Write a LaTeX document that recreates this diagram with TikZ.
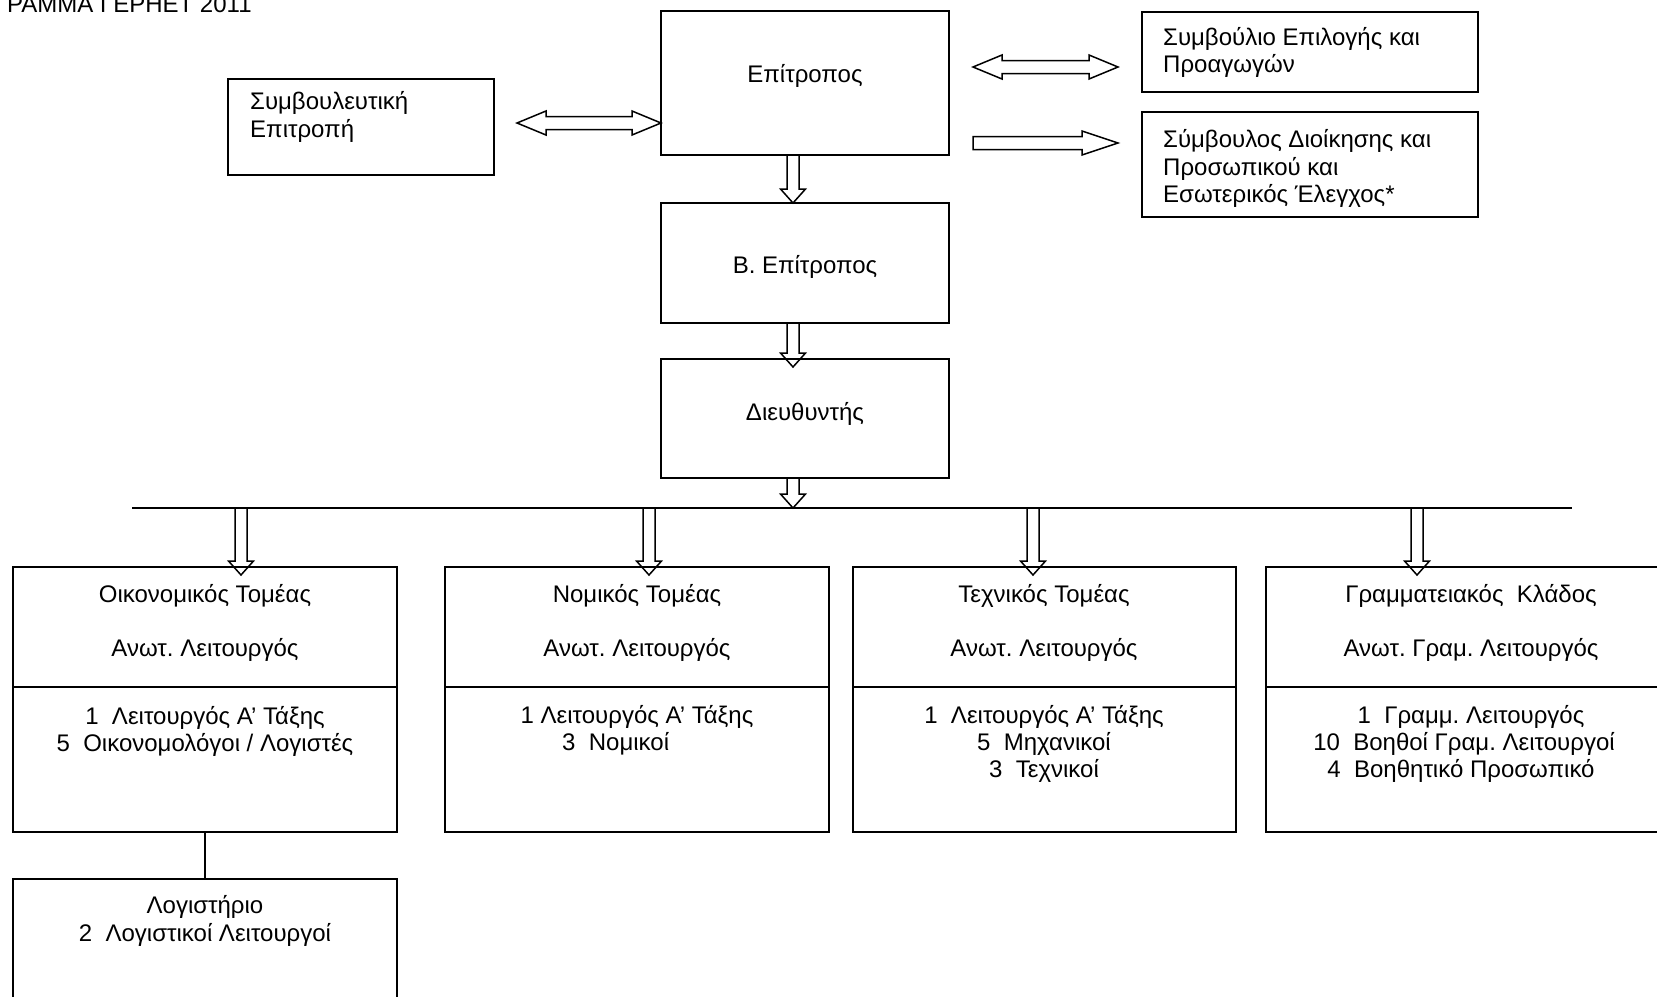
\documentclass[tikz,border=0pt]{standalone}
\usepackage{fontspec}
\setmainfont{Liberation Sans}
\usetikzlibrary{calc}
\frenchspacing
\newcommand\fs{\fontsize{24}{27}\selectfont}
\tikzset{
  box/.style={draw, line width=1.9pt, inner sep=0pt, outer sep=0pt, anchor=north west},
  lbl/.style={inner sep=0pt, anchor=base, font=\fs},
  lbll/.style={inner sep=0pt, anchor=base west, font=\fs},
  barrow/.style={draw, line width=1.5pt, line join=miter},
  busline/.style={draw, line width=1.9pt},
}
\newcommand\dnarr[2]{\draw[barrow] let \p1=(#1), \p2=(#2) in
  (\x2-6pt,\y1) -- (\x2-6pt,\y2+14pt) -- (\x2-12.5pt,\y2+14pt) -- (\x2,\y2) --
  (\x2+12.5pt,\y2+14pt) -- (\x2+6pt,\y2+14pt) -- (\x2+6pt,\y1) -- cycle;}
\newcommand\dblarr[2]{\draw[barrow] let \p1=(#1), \p2=(#2) in
  (\x1,\y1) -- (\x1+29pt,\y1+12pt) -- (\x1+29pt,\y1+6.5pt) -- (\x2-29pt,\y1+6.5pt) --
  (\x2-29pt,\y1+12pt) -- (\x2,\y1) -- (\x2-29pt,\y1-12pt) -- (\x2-29pt,\y1-6.5pt) --
  (\x1+29pt,\y1-6.5pt) -- (\x1+29pt,\y1-12pt) -- cycle;}
\newcommand\rtarr[2]{\draw[barrow] let \p1=(#1), \p2=(#2) in
  (\x1,\y1+6.5pt) -- (\x2-36pt,\y1+6.5pt) -- (\x2-36pt,\y1+12pt) -- (\x2,\y1) --
  (\x2-36pt,\y1-12pt) -- (\x2-36pt,\y1-6.5pt) -- (\x1,\y1-6.5pt) -- cycle;}
\begin{document}
\begin{tikzpicture}[x=1pt,y=-1pt]
\useasboundingbox (0,0) rectangle (1657,996);

% title (cut at the top)
\node[lbll] (title) at (7,12.7) {ΡΑΜΜΑ ΓΕΡΗΕΤ 2011};

% top column
\node[box, minimum width=288, minimum height=144] (epit) at (661,11) {};
\node[lbl] (epitT) at (805,82) {Επίτροπος};
\node[box, minimum width=288, minimum height=120] (bepit) at (661,203) {};
\node[lbl] (bepitT) at (805,273) {Β. Επίτροπος};
\node[box, minimum width=288, minimum height=119] (dieu) at (661,359) {};
\node[lbl] (dieuT) at (805,420) {Διευθυντής};

% left box
\node[box, minimum width=266, minimum height=96] (symb) at (228,79) {};
\node[lbll] (symbT1) at (250,109) {Συμβουλευτική};
\node[lbll] (symbT2) at (250,137) {Επιτροπή};

% right boxes
\node[box, minimum width=336, minimum height=80] (sel) at (1142,12) {};
\node[lbll] (selT1) at (1163,45) {Συμβούλιο Επιλογής και};
\node[lbll] (selT2) at (1163,72) {Προαγωγών};
\node[box, minimum width=336, minimum height=105] (adm) at (1142,112) {};
\node[lbll] (admT1) at (1163,147) {Σύμβουλος Διοίκησης και};
\node[lbll] (admT2) at (1163,175) {Προσωπικού και};
\node[lbll] (admT3) at (1163,202) {Εσωτερικός Έλεγχος*};

% horizontal arrows
\coordinate (la) at (517,123);
\coordinate (lb) at (661,123);
\dblarr{la}{lb}
\coordinate (ra1) at (973,67);
\coordinate (rb1) at (1118,67);
\dblarr{ra1}{rb1}
\coordinate (ra2) at (973,143);
\coordinate (rb2) at (1118,143);
\rtarr{ra2}{rb2}

% vertical arrows
\coordinate (v1) at (793,155);
\coordinate (v1t) at (793,203);
\dnarr{v1}{v1t}
\coordinate (v2) at (793,323);
\coordinate (v2t) at (793,367);
\dnarr{v2}{v2t}
\coordinate (v3) at (793,478);
\coordinate (v3t) at (793,508);
\dnarr{v3}{v3t}

% bus line
\coordinate (busL) at (132,508);
\coordinate (busR) at (1572,508);
\draw[busline] (busL) -- (busR);

% bottom boxes
\node[box, minimum width=384, minimum height=120] (b1t) at (13,567) {};
\node[box, minimum width=384, minimum height=145] (b1b) at (13,687) {};
\node[box, minimum width=384, minimum height=120] (b2t) at (445,567) {};
\node[box, minimum width=384, minimum height=145] (b2b) at (445,687) {};
\node[box, minimum width=383, minimum height=120] (b3t) at (853,567) {};
\node[box, minimum width=383, minimum height=145] (b3b) at (853,687) {};
\node[box, minimum width=410, minimum height=120] (b4t) at (1266,567) {};
\node[box, minimum width=410, minimum height=145] (b4b) at (1266,687) {};

\coordinate (ds1) at (241,508); \coordinate (dt1) at (241,575);
\coordinate (ds2) at (649,508); \coordinate (dt2) at (649,575);
\coordinate (ds3) at (1033,508); \coordinate (dt3) at (1033,575);
\coordinate (ds4) at (1417,508); \coordinate (dt4) at (1417,575);
\dnarr{ds1}{dt1}
\dnarr{ds2}{dt2}
\dnarr{ds3}{dt3}
\dnarr{ds4}{dt4}

% box 1
\node[lbl] (b1a) at (205,602) {Οικονομικός Τομέας};
\node[lbl] (b1c) at (205,656) {Ανωτ. Λειτουργός};
\node[lbl] (b1d) at (205,724) {1~~Λειτουργός Α’ Τάξης};
\node[lbl] (b1e) at (205,751) {5~~Οικονομολόγοι / Λογιστές};
% box 2
\node[lbl] (b2a) at (637,602) {Νομικός Τομέας};
\node[lbl] (b2c) at (637,656) {Ανωτ. Λειτουργός};
\node[lbl] (b2d) at (637,723) {1 Λειτουργός Α’ Τάξης};
\node[lbll] (b2e) at (562,750) {3~~Νομικοί};
% box 3
\node[lbl] (b3a) at (1044,602) {Τεχνικός Τομέας};
\node[lbl] (b3c) at (1044,656) {Ανωτ. Λειτουργός};
\node[lbl] (b3d) at (1044,723) {1~~Λειτουργός Α’ Τάξης};
\node[lbl] (b3e) at (1044,750) {5~~Μηχανικοί};
\node[lbl] (b3f) at (1044,777) {3~~Τεχνικοί};
% box 4
\node[lbl] (b4a) at (1471,602) {Γραμματειακός~~Κλάδος};
\node[lbl] (b4c) at (1471,656) {Ανωτ. Γραμ. Λειτουργός};
\node[lbl] (b4d) at (1471,723) {1~~Γραμμ. Λειτουργός};
\node[lbl] (b4e) at (1464,750) {10~~Βοηθοί Γραμ. Λειτουργοί};
\node[lbl] (b4f) at (1461,777) {4~~Βοηθητικό Προσωπικό};

% accounting
\node[box, minimum width=384, minimum height=140] (log) at (13,879) {};
\draw[line width=1.9pt] (b1b.south) -- (log.north);
\node[lbl] (logT1) at (205,913) {Λογιστήριο};
\node[lbl] (logT2) at (205,941) {2~~Λογιστικοί Λειτουργοί};
\end{tikzpicture}
\end{document}
